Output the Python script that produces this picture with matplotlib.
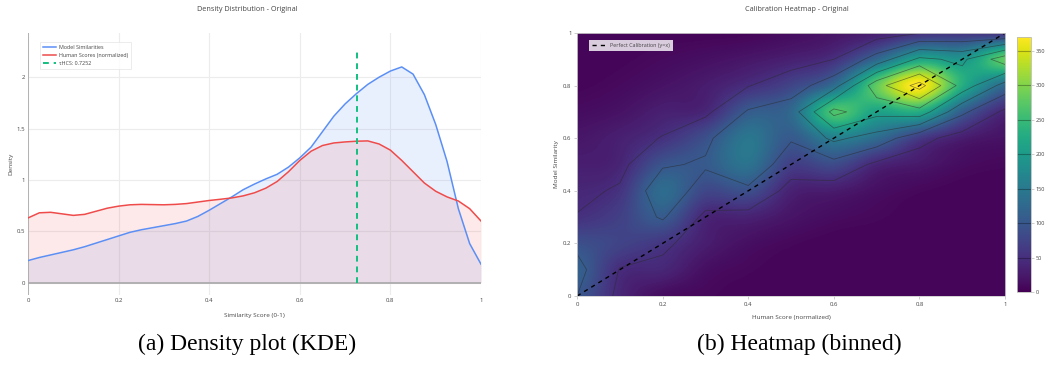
import numpy as np
import matplotlib.pyplot as plt

plt.rcParams['font.family'] = ['Open Sans', 'DejaVu Sans']

score_x = np.linspace(0, 1, 41)
model_density = [0.215, 0.245, 0.27, 0.295, 0.32, 0.35, 0.385, 0.42, 0.455, 0.49,
                 0.515, 0.535, 0.555, 0.575, 0.60, 0.645, 0.705, 0.77, 0.835, 0.905,
                 0.96, 1.01, 1.055, 1.125, 1.215, 1.32, 1.47, 1.62, 1.74, 1.84,
                 1.93, 2.0, 2.06, 2.10, 2.03, 1.83, 1.54, 1.18, 0.72, 0.38, 0.18]
human_density = [0.63, 0.68, 0.685, 0.67, 0.655, 0.665, 0.695, 0.725, 0.745, 0.758,
                 0.762, 0.76, 0.758, 0.762, 0.77, 0.785, 0.80, 0.812, 0.825, 0.845,
                 0.875, 0.92, 0.985, 1.08, 1.19, 1.28, 1.335, 1.36, 1.37, 1.377,
                 1.38, 1.35, 1.29, 1.19, 1.08, 0.97, 0.89, 0.835, 0.795, 0.72, 0.60]
tau_hcs = 0.7252

# binned calibration counts, rows = model similarity bins (0 -> 1), cols = human score bins
bin_centers = np.linspace(0, 1, 11)
counts = np.array([
    [100, 40, 12, 8, 5, 5, 5, 5, 5, 5, 5],
    [115, 48, 40, 15, 8, 5, 5, 5, 5, 5, 5],
    [90, 75, 58, 30, 15, 8, 5, 5, 5, 5, 5],
    [52, 70, 105, 40, 35, 20, 12, 8, 5, 5, 5],
    [40, 55, 130, 80, 90, 35, 28, 15, 8, 5, 5],
    [30, 38, 95, 105, 140, 70, 85, 40, 25, 12, 8],
    [22, 32, 52, 90, 145, 105, 160, 130, 65, 30, 18],
    [12, 18, 32, 40, 105, 125, 265, 215, 230, 110, 40],
    [6, 10, 18, 28, 48, 75, 130, 280, 370, 230, 130],
    [5, 6, 10, 15, 22, 32, 50, 120, 210, 190, 280],
    [5, 5, 5, 5, 6, 12, 20, 28, 48, 55, 50],
])
contour_levels = [50, 100, 150, 200, 250, 300, 350]
perfect = [0.0, 1.0]
ticks = [0, 0.2, 0.4, 0.6, 0.8, 1]
tick_labels = ['0', '0.2', '0.4', '0.6', '0.8', '1']

fig = plt.figure(figsize=(10.45, 3.7), dpi=100)

# ---- (a) density plot
ax1 = fig.add_axes([0.0268, 0.2027, 0.4335, 0.708])
blue, red, green = '#5b8ff5', '#ef4b4b', '#12c080'
ax1.fill_between(score_x, model_density, color=blue, alpha=0.13, lw=0)
ax1.fill_between(score_x, human_density, color=red, alpha=0.12, lw=0)
ax1.plot(score_x, model_density, color=blue, lw=1.1, label='Model Similarities')
ax1.plot(score_x, human_density, color=red, lw=1.1, label='Human Scores (normalized)')
ax1.vlines(tau_hcs, 0, 1.08 * max(model_density), color=green, lw=1.4,
           linestyles=(0, (3, 2.5)), label='\u03c4HCS: 0.7252')
ax1.axhline(0, color='#a8a8a8', lw=1.2, zorder=1)
ax1.axvline(0, color='#a8a8a8', lw=1.2, zorder=1)
ax1.set_xlim(0, 1)
ax1.set_ylim(-0.12, 2.43)
ax1.set_xticks(ticks, tick_labels)
ax1.set_yticks([0, 0.5, 1, 1.5, 2], ['0', '0.5', '1', '1.5', '2'])
ax1.grid(color='#ececec', lw=0.8)
ax1.set_axisbelow(True)
for s in ax1.spines.values():
    s.set_visible(False)
ax1.tick_params(length=0, labelsize=4.3, labelcolor='#444444', pad=2)
ax1.set_xlabel('Similarity Score (0-1)', fontsize=4.6, color='#444444', labelpad=7)
ax1.set_ylabel('Density', fontsize=4.6, color='#444444', labelpad=2)
leg = ax1.legend(loc='upper left', bbox_to_anchor=(0.02, 0.977), fontsize=3.9,
                 frameon=True, fancybox=False, edgecolor='#e4e4e4', handlelength=2.4,
                 labelspacing=0.55, borderpad=0.6, handletextpad=0.5)
leg.get_frame().set_linewidth(0.6)
for t in leg.get_texts():
    t.set_color('#444444')
fig.text(0.237, 0.973, 'Density Distribution - Original', ha='center', va='center',
         fontsize=5.2, color='#444444')

# ---- (b) calibration heatmap
ax2 = fig.add_axes([0.5522, 0.2, 0.4096, 0.711])
step = bin_centers[1] - bin_centers[0]
im = ax2.imshow(counts, origin='lower', cmap='viridis', vmin=0, vmax=counts.max(),
                extent=(bin_centers[0] - step / 2, bin_centers[-1] + step / 2,
                        bin_centers[0] - step / 2, bin_centers[-1] + step / 2),
                interpolation='catrom', interpolation_stage='data', aspect='auto')
ax2.contour(bin_centers, bin_centers, counts, levels=contour_levels,
            colors='#2a2a2a', linewidths=0.55, alpha=0.55)
ax2.plot(perfect, perfect, color='black', lw=1.0, dashes=(3, 3),
         label='Perfect Calibration (y=x)')
ax2.set_xlim(0, 1)
ax2.set_ylim(0, 1)
ax2.set_xticks(ticks, tick_labels)
ax2.set_yticks(ticks, tick_labels)
for s in ax2.spines.values():
    s.set_color('#cccccc')
    s.set_linewidth(0.6)
ax2.tick_params(length=2, width=0.5, color='#bbbbbb', labelsize=4.3,
                labelcolor='#444444', pad=2)
ax2.set_xlabel('Human Score (normalized)', fontsize=4.6, color='#444444', labelpad=6)
ax2.set_ylabel('Model Similarity', fontsize=4.6, color='#444444', labelpad=3)
leg2 = ax2.legend(loc='upper left', bbox_to_anchor=(0.022, 0.985), fontsize=3.9,
                  frameon=True, fancybox=False, framealpha=0.8, edgecolor='none',
                  handlelength=2.6, borderpad=0.6, handletextpad=0.6)
for t in leg2.get_texts():
    t.set_color('#444444')
fig.text(0.763, 0.973, 'Calibration Heatmap - Original', ha='center', va='center',
         fontsize=5.2, color='#444444')

cax = fig.add_axes([0.9732, 0.2108, 0.0134, 0.689])
cb = fig.colorbar(im, cax=cax, ticks=[0, 50, 100, 150, 200, 250, 300, 350])
for lv in contour_levels:
    cax.axhline(lv, color='black', alpha=0.3, lw=0.8)
cb.outline.set_edgecolor('#bbbbbb')
cb.outline.set_linewidth(0.6)
cax.tick_params(length=2, width=0.5, color='#bbbbbb', labelsize=4,
                labelcolor='#444444', pad=1.5)

# ---- captions
fig.text(0.236, 0.068, '(a) Density plot (KDE)', ha='center', va='center',
         fontsize=17, family='Liberation Serif')
fig.text(0.765, 0.068, '(b) Heatmap (binned)', ha='center', va='center',
         fontsize=17, family='Liberation Serif')

fig.savefig('out.png', dpi=100)
